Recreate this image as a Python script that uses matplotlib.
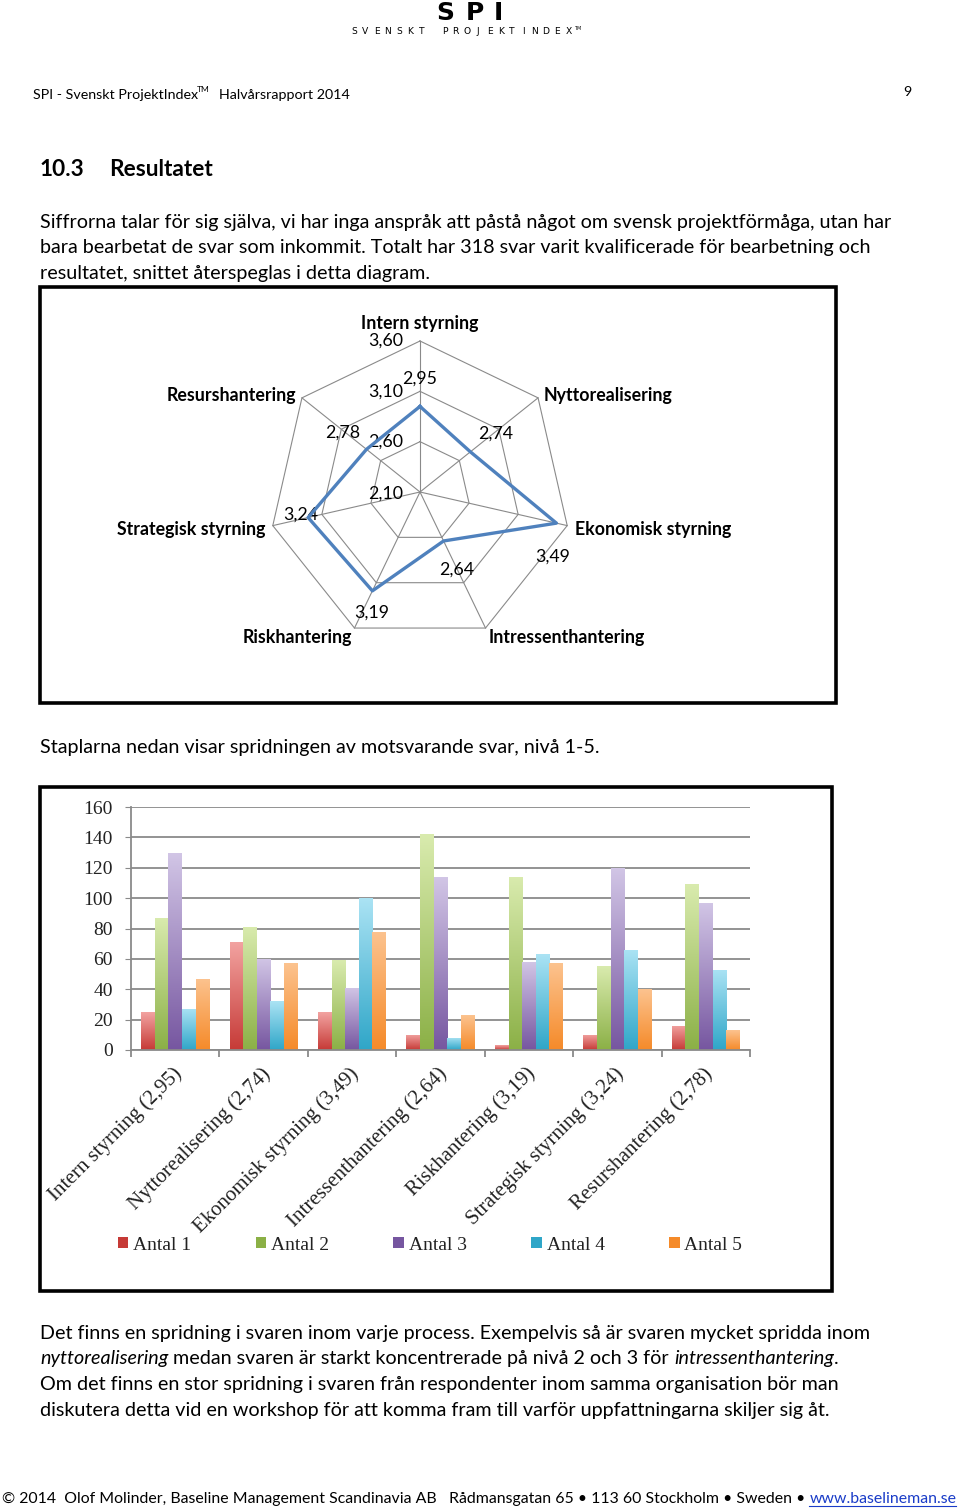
import numpy as np
import matplotlib
matplotlib.use("Agg")
import matplotlib.pyplot as plt
from matplotlib.patches import Rectangle, Patch
from matplotlib.colors import LinearSegmentedColormap
from matplotlib.lines import Line2D
from matplotlib.transforms import ScaledTranslation

W, H, DPI = 960, 1510, 100

# ---------------- data ----------------
radar_categories = ["Intern styrning", "Nyttorealisering", "Ekonomisk styrning",
                    "Intressenthantering", "Riskhantering", "Strategisk styrning",
                    "Resurshantering"]
radar_values = [2.95, 2.74, 3.49, 2.64, 3.19, 3.24, 2.78]
radar_value_labels = ["2,95", "2,74", "3,49", "2,64", "3,19", "3,24", "2,78"]
radar_ticks = [2.10, 2.60, 3.10, 3.60]
radar_tick_labels = ["2,10", "2,60", "3,10", "3,60"]

bar_labels = ["Intern styrning (2,95)", "Nyttorealisering (2,74)",
              "Ekonomisk styrning (3,49)", "Intressenthantering (2,64)",
              "Riskhantering (3,19)", "Strategisk styrning (3,24)",
              "Resurshantering (2,78)"]
series_names = ["Antal 1", "Antal 2", "Antal 3", "Antal 4", "Antal 5"]
antal_1 = [25, 71, 25, 10, 3, 10, 16]
antal_2 = [87, 81, 59, 142, 114, 55, 109]
antal_3 = [130, 60, 41, 114, 58, 120, 97]
antal_4 = [27, 32, 100, 8, 63, 66, 53]
antal_5 = [47, 57, 78, 23, 57, 40, 13]
bar_yticks = [0, 20, 40, 60, 80, 100, 120, 140, 160]

# ---------------- styles ----------------
SANS = ["Lato", "DejaVu Sans"]
SERIF = ["Liberation Serif", "DejaVu Serif"]
series_colors = [("#C63A36", "#F2A3A1"), ("#8BB046", "#D9EBAE"),
                 ("#7656A0", "#D2C6E6"), ("#2FA6C8", "#ABE3F4"),
                 ("#F58A29", "#FCC38F")]
grid_gray = "#8a8a8a"
BODY = 14.2

fig = plt.figure(figsize=(W / DPI, H / DPI), dpi=DPI)
fig.patch.set_facecolor("white")
renderer = fig.canvas.get_renderer()


def fx(x):
    return x / W


def fy(y):
    return 1 - y / H


def T(x, y, s, size, **kw):
    kw.setdefault("family", SANS)
    return fig.text(fx(x), fy(y), s, fontsize=size, **kw)


def width_of(s, size, **kw):
    t = T(0, 0, s, size, **kw)
    w = t.get_window_extent(renderer=renderer).width
    t.remove()
    return w


def runs(x, y, parts, size, color="black"):
    """parts: list of (text, style); a ' ' token inserts one space width"""
    sp = width_of("a a", size) - width_of("aa", size)
    for s, style in parts:
        if s == " ":
            x += sp
            continue
        t = T(x, y, s, size, style=style, va="baseline", ha="left", color=color)
        x += t.get_window_extent(renderer=renderer).width
    return x


# ---------------- logo / header ----------------
for ch, xc in zip("SPI", [445, 475, 498.5]):
    T(xc, 19.5, ch, 18, family=["DejaVu Sans"], weight="bold", ha="center", va="baseline")
logo_sub = "SVENSKT PROJEKTINDEX"
xs = 354
for ch in logo_sub:
    if ch != " ":
        T(xs, 32, ch, 6.6, family=["DejaVu Sans"], ha="center", va="center")
    xs += 11.3
T(xs - 6, 28, "TM", 3.5, family=["DejaVu Sans"], ha="left", va="center")

T(33, 95, "SPI - Svenskt ProjektIndex", 10.3, va="center")
T(197, 90, "TM", 6, va="center")
T(219, 95, "Halvårsrapport 2014", 10.3, va="center")
T(911, 92, "9", 10.3, va="center", ha="right")

T(40, 170, "10.3", 16.3, weight="bold", va="center")
T(109, 170, "Resultatet", 16.3, weight="bold", va="center")

body = ["Siffrorna talar för sig själva, vi har inga anspråk att påstå något om svensk projektförmåga, utan har",
        "bara bearbetat de svar som inkommit. Totalt har 318 svar varit kvalificerade för bearbetning och",
        "resultatet, snittet återspeglas i detta diagram."]
for s, yb in zip(body, [228, 253, 279]):
    T(40, yb, s, BODY, va="baseline")

T(40, 753, "Staplarna nedan visar spridningen av motsvarande svar, nivå 1-5.", BODY, va="baseline")

# boxes
for (x0, y0, x1, y1) in [(40, 287, 836, 703), (40, 787, 832, 1291)]:
    fig.patches.append(Rectangle((fx(x0), fy(y1)), fx(x1) - fx(x0), fy(y0) - fy(y1),
                                 transform=fig.transFigure, fill=False,
                                 edgecolor="black", lw=2.6))

# ---------------- radar ----------------
R = 151
cx, cy = 420, 492
axr = fig.add_axes([fx(cx - R), fy(cy + R), 2 * R / W, 2 * R / H], projection="polar")
axr.set_theta_zero_location("N")
axr.set_theta_direction(-1)
axr.set_ylim(radar_ticks[0], radar_ticks[-1])
axr.grid(False)
axr.set_xticks([])
axr.set_yticks([])
axr.spines["polar"].set_visible(False)
axr.patch.set_visible(False)

n = len(radar_categories)
theta = np.arange(n) * 2 * np.pi / n
tc = np.append(theta, theta[0])
for lev in radar_ticks[1:]:
    axr.plot(tc, [lev] * (n + 1), color=grid_gray, lw=0.8, clip_on=False)
for t in theta:
    axr.plot([t, t], [radar_ticks[0], radar_ticks[-1]], color=grid_gray, lw=0.8, clip_on=False)
axr.plot(tc, np.append(radar_values, radar_values[0]), color="#4F81BD", lw=2.4,
         clip_on=False, zorder=5)

PX = 0.72  # px -> points
RF = 12.8
val_off = [(0, 28), (25, 18), (-4, -33), (13, -29), (-1, -22), (-7, 3), (-24, 17)]
for t, v, lab, (dx, dy) in zip(theta, radar_values, radar_value_labels, val_off):
    axr.annotate(lab, (t, v), xytext=(dx * PX, dy * PX), textcoords="offset points",
                 ha="center", va="center", fontsize=RF, family=SANS, annotation_clip=False)
for lev, lab in zip(radar_ticks, radar_tick_labels):
    dy = -2 if lev == radar_ticks[0] else 0
    axr.annotate(lab, (0, lev), xytext=(-17 * PX, dy * PX), textcoords="offset points",
                 ha="right", va="center", fontsize=RF, family=SANS, annotation_clip=False)
cat_style = [("center", (0, 17)), ("left", (6, 2)), ("left", (8, -4)), ("left", (3, -9)),
             ("right", (-2, -9)), ("right", (-7, -4)), ("right", (-6, 2))]
for t, lab, (ha, (dx, dy)) in zip(theta, radar_categories, cat_style):
    axr.annotate(lab, (t, radar_ticks[-1]), xytext=(dx * PX, dy * PX), textcoords="offset points",
                 ha=ha, va="center", fontsize=RF, weight="bold", family=SANS,
                 annotation_clip=False)

# ---------------- bar chart ----------------
axb = fig.add_axes([fx(131), fy(1050), 619 / W, 243 / H])
series = [antal_1, antal_2, antal_3, antal_4, antal_5]
xg = np.arange(len(bar_labels))
bw = 0.154
grad = np.linspace(0, 1, 256).reshape(-1, 1)
for i, (vals, (cbot, ctop)) in enumerate(zip(series, series_colors)):
    cm = LinearSegmentedColormap.from_list(f"g{i}", [cbot, ctop])
    bars = axb.bar(xg + (i - 2) * bw, vals, bw, color=cbot, zorder=2, lw=0)
    for b in bars:
        im = axb.imshow(grad, extent=[b.get_x(), b.get_x() + b.get_width(), 0, b.get_height()],
                        cmap=cm, aspect="auto", origin="lower", zorder=2.5, interpolation="bilinear")
        im.set_clip_path(b)

axb.set_xlim(-0.5, len(bar_labels) - 0.5)
axb.set_ylim(0, 160)
axb.set_yticks(bar_yticks)
axb.set_yticklabels([str(v) for v in bar_yticks], family=SERIF, fontsize=14)
axb.yaxis.grid(True, color=grid_gray, lw=1.3)
axb.set_axisbelow(True)
for s in ["top", "right"]:
    axb.spines[s].set_visible(False)
for s in ["left", "bottom"]:
    axb.spines[s].set_color(grid_gray)
    axb.spines[s].set_linewidth(1.3)
axb.tick_params(axis="y", length=4, color=grid_gray, pad=9, labelcolor="#222222")
axb.set_xticks(np.arange(-0.5, len(bar_labels)))
axb.set_xticklabels([])
axb.tick_params(axis="x", length=5, color=grid_gray, width=1.3)
axb.patch.set_visible(False)

off = ScaledTranslation(4 / DPI, -21 / DPI, fig.dpi_scale_trans)
for i, lab in enumerate(bar_labels):
    axb.text(i, 0, lab, transform=axb.get_xaxis_transform() + off, rotation=45,
             rotation_mode="anchor", ha="right", va="center", family=SERIF,
             fontsize=15, color="#222222")

handles = [Patch(facecolor=cb, edgecolor="none") for cb, ct in series_colors]
fig.legend(handles, series_names, loc="center", bbox_to_anchor=(fx(430), fy(1245)),
           ncol=5, frameon=False, prop={"family": SERIF, "size": 14},
           handlelength=0.55, handleheight=0.55, handletextpad=0.25, columnspacing=3.3,
           labelcolor="#222222")

# ---------------- bottom text ----------------
runs(40, 1339, [("Det finns en spridning i svaren inom varje process. Exempelvis så är svaren mycket spridda inom", "normal")], BODY)
runs(40, 1364, [("nyttorealisering", "italic"), (" ", None),
                ("medan svaren är starkt koncentrerade på nivå 2 och 3 för", "normal"), (" ", None),
                ("intressenthantering", "italic"), (".", "normal")], BODY)
runs(40, 1390, [("Om det finns en stor spridning i svaren från respondenter inom samma organisation bör man", "normal")], BODY)
runs(40, 1416, [("diskutera detta vid en workshop för att komma fram till varför uppfattningarna skiljer sig åt.", "normal")], BODY)

FS = 11.45
xe = runs(2, 1503, [("© 2014  Olof Molinder, Baseline Management Scandinavia AB   Rådmansgatan 65 • 113 60 Stockholm • Sweden •", "normal"), (" ", None)], FS)
t = T(xe, 1503, "www.baselineman.se", FS, va="baseline", color="#1a3cc8")
bb = t.get_window_extent(renderer=renderer)
fig.add_artist(Line2D([bb.x0 / W, bb.x1 / W], [fy(1506)] * 2, transform=fig.transFigure,
                      color="#1a3cc8", lw=0.8))

fig.savefig("out.png", dpi=DPI)
